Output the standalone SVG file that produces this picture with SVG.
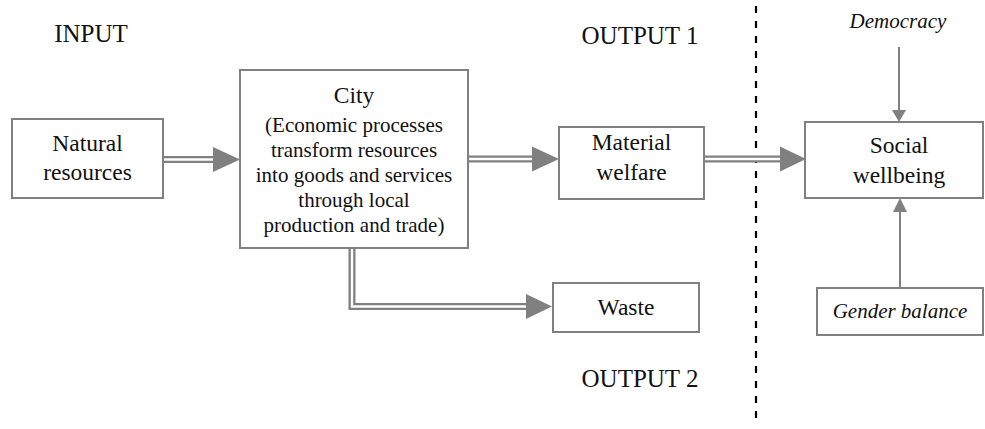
<svg xmlns="http://www.w3.org/2000/svg" width="985" height="429" viewBox="0 0 985 429">
<style>
.box{fill:#fff;stroke:#808080;stroke-width:2}
.t{font-family:"Liberation Serif",serif;fill:#111;text-anchor:middle}
.n{font-size:23.5px}
.s{font-size:21px}
.l{font-size:25px}
.i{font-size:21px;font-style:italic}
.outer{fill:none;stroke:#808080;stroke-width:7;stroke-linejoin:miter}
.inner{fill:none;stroke:#fff;stroke-width:2.4;stroke-linejoin:miter}
.head{fill:#808080}
.thin{stroke:#808080;stroke-width:2;fill:none}
</style>
<rect width="985" height="429" fill="#fff"/>
<g id="labels">
<text class="t l" x="91" y="42">INPUT</text>
<text class="t l" x="640" y="44">OUTPUT 1</text>
<text class="t l" x="640" y="387">OUTPUT 2</text>
</g>
<g id="divider">
<line x1="756" y1="6" x2="756" y2="426" stroke="#000" stroke-width="2.2" stroke-dasharray="7,8"/>
</g>
<g id="connectors">
<path class="outer" d="M163,159.5 H215"/>
<path class="inner" d="M163,159.5 H215"/>
<polygon class="head" points="213,147 240,159.5 213,172"/>
<path class="outer" d="M468,159 H534"/>
<path class="inner" d="M468,159 H534"/>
<polygon class="head" points="532,146.5 559,159 532,171.5"/>
<path class="outer" d="M704,159 H782"/>
<path class="inner" d="M704,159 H782"/>
<polygon class="head" points="780,146.5 806,159 780,171.5"/>
<path class="outer" d="M352,248 V306.5 H528"/>
<path class="inner" d="M352,248 V306.5 H528"/>
<polygon class="head" points="526,294 552,306.5 526,319"/>
<line class="thin" x1="899" y1="47" x2="899" y2="111"/>
<polygon class="head" points="892,110 906,110 899,122"/>
<line class="thin" x1="900" y1="288" x2="900" y2="210"/>
<polygon class="head" points="893,212 907,212 900,198"/>
</g>
<g id="natural-resources">
<rect class="box" x="12" y="119" width="151" height="79"/>
<text class="t n" x="87.5" y="151">Natural</text>
<text class="t n" x="87.5" y="180">resources</text>
</g>
<g id="city">
<rect class="box" x="240" y="70" width="228" height="178"/>
<text class="t n" x="354" y="103">City</text>
<text class="t s" x="354" y="132">(Economic processes</text>
<text class="t s" x="354" y="157">transform resources</text>
<text class="t s" x="354" y="182">into goods and services</text>
<text class="t s" x="354" y="207">through local</text>
<text class="t s" x="354" y="232">production and trade)</text>
</g>
<g id="material-welfare">
<rect class="box" x="559" y="127" width="145" height="72"/>
<text class="t n" x="631.5" y="150">Material</text>
<text class="t n" x="631.5" y="180">welfare</text>
</g>
<g id="waste">
<rect class="box" x="553" y="283" width="146" height="49"/>
<text class="t n" x="626" y="315">Waste</text>
</g>
<g id="social-wellbeing">
<rect class="box" x="805" y="122" width="178" height="76"/>
<text class="t n" x="899" y="153">Social</text>
<text class="t n" x="899" y="183">wellbeing</text>
</g>
<g id="democracy">
<text class="t i" x="898" y="28">Democracy</text>
</g>
<g id="gender-balance">
<rect class="box" x="817" y="288" width="166" height="47"/>
<text class="t i" x="900" y="318">Gender balance</text>
</g>
</svg>
